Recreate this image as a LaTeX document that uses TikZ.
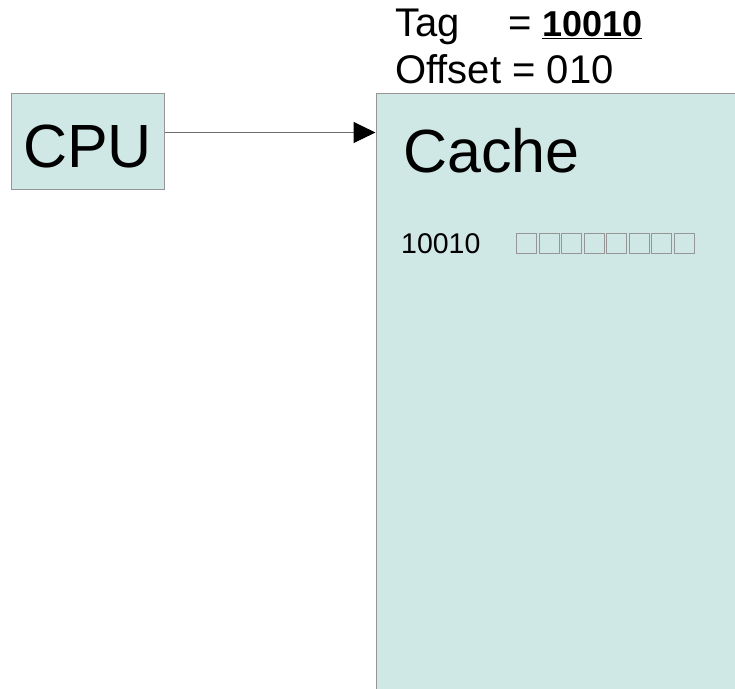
\documentclass[tikz,border=0pt]{standalone}
\usepackage{fontspec}
\setmainfont{Liberation Sans}
\usetikzlibrary{arrows.meta}
\definecolor{boxfill}{RGB}{207,231,229}
\definecolor{boxline}{RGB}{150,150,150}
\definecolor{arrline}{RGB}{110,110,110}
\definecolor{sqline}{RGB}{150,150,150}
\tikzset{
  unitbox/.style={draw=boxline, fill=boxfill, line width=1pt, inner sep=0pt, anchor=north west},
  txt/.style={inner sep=0pt, anchor=base west, text=black},
  sq/.style={draw=sqline, line width=1pt, minimum width=20pt, minimum height=20pt, inner sep=0pt, anchor=north west},
  conn/.style={draw=arrline, line width=1pt, -{Triangle[length=22pt,width=21pt,fill=black,color=black]}}
}
\begin{document}
\begin{tikzpicture}[x=1pt,y=-1pt]
\useasboundingbox (0,0) rectangle (735,688);
% boxes
\node[unitbox, minimum width=153pt, minimum height=96pt] (cpu) at (11,93) {};
\node[txt, anchor=base] (cputxt) at (87.5,167) {\fontsize{61}{66}\selectfont CPU};
\node[unitbox, minimum width=380pt, minimum height=620pt] (cache) at (375.5,93) {};
\node[txt] (cachetxt) at (403,172) {\fontsize{61}{66}\selectfont Cache};
% header text
\node[txt] (tag) at (395,36) {\fontsize{40}{44}\selectfont Tag};
\node[txt] (tageq) at (508,36) {\fontsize{40}{44}\selectfont =};
\node[txt] (tagval) at (542,36) {\fontsize{36}{40}\selectfont \textbf{\underline{10010}}};
\node[txt] (offset) at (395,83) {\fontsize{40}{44}\selectfont Offset = 010};
% cache line
\node[txt] (line) at (401,253) {\fontsize{28.5}{32}\selectfont 10010};
\foreach \i in {0,...,7} {
  \node[sq] (s\i) at (516+22.5*\i,233) {};
}
% connector
\coordinate (cpuout) at ([yshift=9pt]cpu.east);
\draw[conn] (cpuout) -- (cache.west |- cpuout);
\end{tikzpicture}
\end{document}
